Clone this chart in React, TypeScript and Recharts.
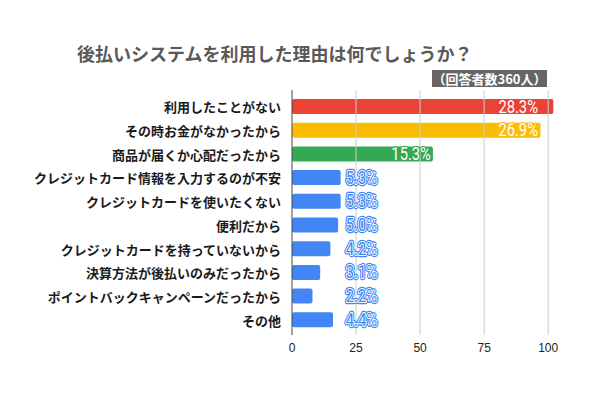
import { BarChart, Bar, XAxis, YAxis, ReferenceLine, Cell, LabelList } from "recharts";

const reasons = [
  "利用したことがない",
  "その時お金がなかったから",
  "商品が届くか心配だったから",
  "クレジットカード情報を入力するのが不安",
  "クレジットカードを使いたくない",
  "便利だから",
  "クレジットカードを持っていないから",
  "決算方法が後払いのみだったから",
  "ポイントバックキャンペーンだったから",
  "その他",
];
// respondents per reason (out of 360)
const counts = [102, 97, 55, 19, 19, 18, 15, 11, 8, 16];
const percents = ["28.3%", "26.9%", "15.3%", "5.3%", "5.3%", "5.0%", "4.2%", "3.1%", "2.2%", "4.4%"];
const barColors = ["#ea4335", "#fbbc04", "#34a853", "#4285f4", "#4285f4", "#4285f4", "#4285f4", "#4285f4", "#4285f4", "#4285f4"];
const xTicks = [0, 25, 50, 75, 100];

const data = reasons.map((reason, i) => ({
  reason,
  count: counts[i],
  pct: percents[i],
  color: barColors[i],
}));

const labelFont = "Roboto, sans-serif";
const squeeze = 0.82;

function BarLabel(props: any) {
  const { x, y, width, height, index } = props;
  const d = data[index];
  const scale = width / d.count;
  const cy = y + height / 2;
  if (d.count >= 30) {
    const end = Math.min(x + width - 2, x + 96 * scale);
    return (
      <g transform={`translate(${end},${cy}) scale(${squeeze},1)`}>
        <text
          textAnchor="end"
          dominantBaseline="central"
          fontFamily={labelFont}
          fontSize={18}
          fill="#fff"
          stroke={d.color}
          strokeWidth={2}
          paintOrder="stroke"
          strokeLinejoin="round"
        >
          {d.pct}
        </text>
      </g>
    );
  }
  const start = x + 21 * scale;
  return (
    <g transform={`translate(${start},${cy}) scale(${squeeze},1)`}>
      <text
        dominantBaseline="central"
        fontFamily={labelFont}
        fontSize={18}
        fill="none"
        stroke={d.color}
        strokeWidth={4.5}
        strokeLinejoin="round"
      >
        {d.pct}
      </text>
      <text
        dominantBaseline="central"
        fontFamily={labelFont}
        fontSize={18}
        fill={d.color}
        stroke="#fff"
        strokeWidth={2}
        paintOrder="stroke"
        strokeLinejoin="round"
      >
        {d.pct}
      </text>
    </g>
  );
}

function ReasonTick(props: any) {
  const { x, y, payload } = props;
  return (
    <text
      x={x}
      y={y}
      textAnchor="end"
      dominantBaseline="central"
      fontFamily="'Noto Sans CJK JP', sans-serif"
      fontWeight={700}
      fontSize={13}
      fill="#1a1a1a"
    >
      {payload.value}
    </text>
  );
}

export default function App() {
  return (
    <div style={{ position: "absolute", left: 0, top: 0, width: 600, height: 400, background: "#fff" }}>
      <div
        style={{
          position: "absolute",
          left: 77,
          top: 44,
          fontFamily: "'Noto Sans CJK JP', sans-serif",
          fontWeight: 700,
          fontSize: 18,
          lineHeight: "18px",
          color: "#595959",
          whiteSpace: "nowrap",
        }}
      >
        後払いシステムを利用した理由は何でしょうか？
      </div>
      <div
        style={{
          position: "absolute",
          left: 432,
          top: 70,
          width: 115,
          height: 17,
          background: "#666",
          color: "#fff",
          fontFamily: "'Noto Sans CJK JP', sans-serif",
          fontWeight: 700,
          fontSize: 13,
          lineHeight: "17px",
          textAlign: "center",
          whiteSpace: "nowrap",
        }}
      >
        （回答者数360人）
      </div>
      <BarChart
        width={600}
        height={400}
        data={data}
        layout="vertical"
        margin={{ top: 90, right: 39, bottom: 35, left: 0 }}
        barCategoryGap={4.5}
      >
        <XAxis
          type="number"
          domain={[0, 105]}
          ticks={xTicks}
          axisLine={false}
          tickLine={false}
          height={30}
          tick={{ fontSize: 12, fill: "#222", fontFamily: "'Liberation Sans', Arial, sans-serif" }}
          tickMargin={2}
        />
        <YAxis
          type="category"
          dataKey="reason"
          width={292}
          axisLine={false}
          tickLine={false}
          tickSize={0}
          tickMargin={11}
          padding={{ top: 5, bottom: 3 }}
          tick={<ReasonTick />}
          interval={0}
        />
        {xTicks.map((t) => (
          <ReferenceLine key={t} x={t} stroke={t === 0 ? "#444" : "#cccccc"} strokeWidth={1} />
        ))}
        <Bar dataKey="count" isAnimationActive={false} radius={2} barSize={15}>
          {data.map((d, i) => (
            <Cell key={i} fill={d.color} />
          ))}
          <LabelList dataKey="count" content={<BarLabel />} />
        </Bar>
      </BarChart>
    </div>
  );
}
